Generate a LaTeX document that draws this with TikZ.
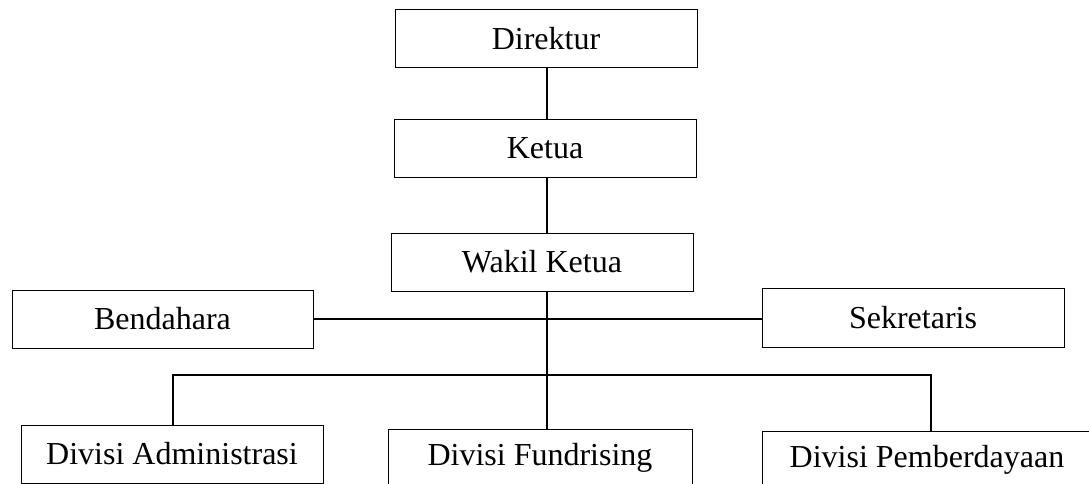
\documentclass[tikz,border=0pt]{standalone}
\usepackage{fontspec}
\setmainfont{Liberation Serif}
\begin{document}
\begin{tikzpicture}[x=1pt,y=-1pt,
  box/.style={draw,line width=1pt,inner sep=0pt,minimum height=58pt,font=\fontsize{32}{32}\selectfont},
  conn/.style={line width=1.6pt}]
\useasboundingbox (0,0) rectangle (1089,484);
\clip (0,0) rectangle (1089,484);
\coordinate (spine) at (547,0);
\node[box,minimum width=302pt] (dir) at (546,39) {Direktur};
\node[box,minimum width=302pt,minimum height=57pt] (ket) at (545,148.5) {Ketua};
\node[box,minimum width=302pt] (wak) at (542,262) {Wakil Ketua};
\node[box,minimum width=301pt] (ben) at (162.5,319) {Bendahara};
\node[box,minimum width=302pt,minimum height=59pt] (sek) at (913,317.5) {Sekretaris};
\node[box,minimum width=302pt] (adm) at (172,454) {Divisi Administrasi};
\node[box,minimum width=304pt] (fun) at (540,458) {Divisi Fundrising};
\node[box,minimum width=340pt] (pem) at (932,460) {\hspace*{-10pt}Divisi Pemberdayaan};
\coordinate (la) at (173,375);
\coordinate (lp) at (931,375);
\draw[conn] (dir.south -| spine) -- (ket.north -| spine);
\draw[conn] (ket.south -| spine) -- (wak.north -| spine);
\draw[conn] (wak.south -| spine) -- (fun.north -| spine);
\draw[conn] (ben.east) -- (ben.east -| sek.west);
\draw[conn] (adm.north -| la) -- (la) -- (lp) -- (pem.north -| lp);
\end{tikzpicture}
\end{document}
